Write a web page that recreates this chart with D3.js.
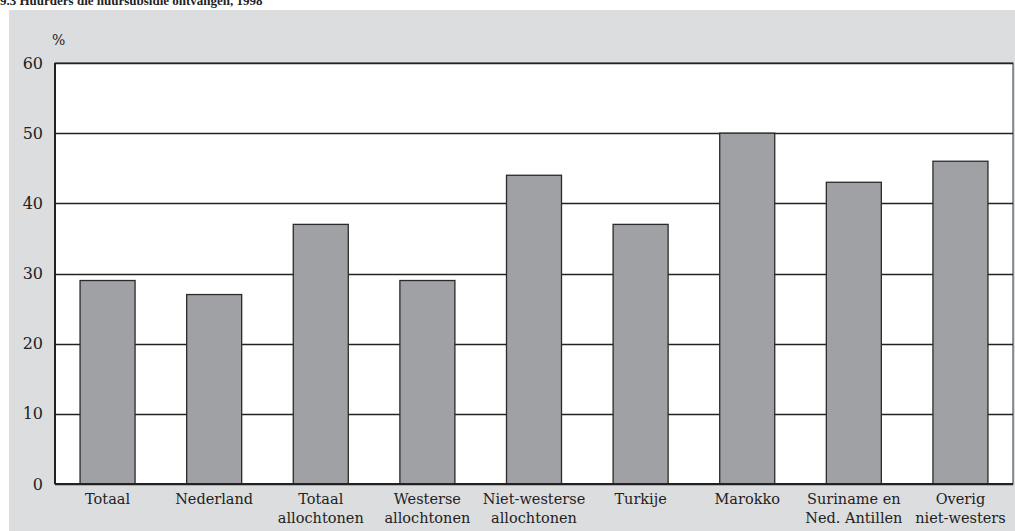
<!DOCTYPE html>
<html lang="nl">
<head>
<meta charset="UTF-8">
<title>Huurders die huursubsidie ontvangen, 1998</title>
<script src="https://d3js.org/d3.v7.min.js"></script>
<style>
  body { margin: 0; background: #fff; }
  svg { display: block; font-family: "DejaVu Serif", "Liberation Serif", serif; }
</style>
</head>
<body>
<div id="chart"></div>
<script>
const categories = [
  ["Totaal"],
  ["Nederland"],
  ["Totaal", "allochtonen"],
  ["Westerse", "allochtonen"],
  ["Niet-westerse", "allochtonen"],
  ["Turkije"],
  ["Marokko"],
  ["Suriname en", "Ned. Antillen"],
  ["Overig", "niet-westers"]
];
const values = [29, 27, 37, 29, 44, 37, 50, 43, 46];
const yTicks = [0, 10, 20, 30, 40, 50, 60];
const titleText = "9.3 Huurders die huursubsidie ontvangen, 1998";

const W = 1015, H = 531;
const margin = { top: 63, right: 2, bottom: 47, left: 55 };
const width = W - margin.left - margin.right;
const height = H - margin.top - margin.bottom;

const svg = d3.select('#chart').append('svg')
  .attr('width', W)
  .attr('height', H);

// grey panel
svg.append('rect')
  .attr('x', 9).attr('y', 10)
  .attr('width', W - 9).attr('height', H - 10)
  .attr('fill', '#dcdddf');

// title, cut off at top as in the source
svg.append('text')
  .attr('x', 0).attr('y', 5)
  .style('font-family', '"Liberation Serif", serif')
  .style('font-size', '13px')
  .style('font-weight', 'bold')
  .attr('fill', '#222')
  .text(titleText);

const g = svg.append('g')
  .attr('transform', `translate(${margin.left},${margin.top})`);

const keys = categories.map(c => c.join(' '));
const x = d3.scaleBand()
  .domain(keys)
  .range([0, width])
  .paddingInner(0.484)
  .paddingOuter(0.235);
const y = d3.scaleLinear()
  .domain([0, 60])
  .range([height, 0]);

// plot area
g.append('rect')
  .attr('width', width).attr('height', height)
  .attr('fill', '#fff')
  .attr('stroke', '#333')
  .attr('stroke-width', 1);

// gridlines
g.append('g')
  .selectAll('line')
  .data(yTicks)
  .join('line')
  .attr('x1', 0).attr('x2', width)
  .attr('y1', d => Math.round(y(d)) + 0.5)
  .attr('y2', d => Math.round(y(d)) + 0.5)
  .attr('stroke', '#222')
  .attr('stroke-width', 1.3);

// bars
g.append('g')
  .selectAll('rect')
  .data(values)
  .join('rect')
  .attr('x', (d, i) => x(keys[i]))
  .attr('y', d => y(d))
  .attr('width', x.bandwidth())
  .attr('height', d => height - y(d))
  .attr('fill', '#a0a1a5')
  .attr('stroke', '#2a2a2a')
  .attr('stroke-width', 1.3);

// axes lines (left + bottom, heavier)
g.append('line')
  .attr('x1', 0).attr('x2', 0).attr('y1', 0).attr('y2', height)
  .attr('stroke', '#222').attr('stroke-width', 2);
g.append('line')
  .attr('x1', 0).attr('x2', width).attr('y1', height).attr('y2', height)
  .attr('stroke', '#222').attr('stroke-width', 2);

// y tick labels
const yAxis = g.append('g')
  .call(d3.axisLeft(y).tickValues(yTicks).tickSize(0).tickPadding(12));
yAxis.select('.domain').remove();
yAxis.selectAll('text')
  .style('font-family', '"DejaVu Serif", serif')
  .style('font-size', '16px')
  .attr('fill', '#222');

g.append('text')
  .attr('x', -3).attr('y', -18)
  .style('font-size', '14px')
  .attr('fill', '#222')
  .text('%');

// x labels
const lbl = g.append('g')
  .selectAll('text')
  .data(categories)
  .join('text')
  .attr('x', (d, i) => x(keys[i]) + x.bandwidth() / 2)
  .attr('y', height + 20)
  .attr('text-anchor', 'middle')
  .style('font-size', '14.5px')
  .attr('fill', '#222');
lbl.selectAll('tspan')
  .data(d => d)
  .join('tspan')
  .attr('x', function () { return d3.select(this.parentNode).attr('x'); })
  .attr('dy', (d, i) => i === 0 ? 0 : 19)
  .text(d => d);
</script>
</body>
</html>
